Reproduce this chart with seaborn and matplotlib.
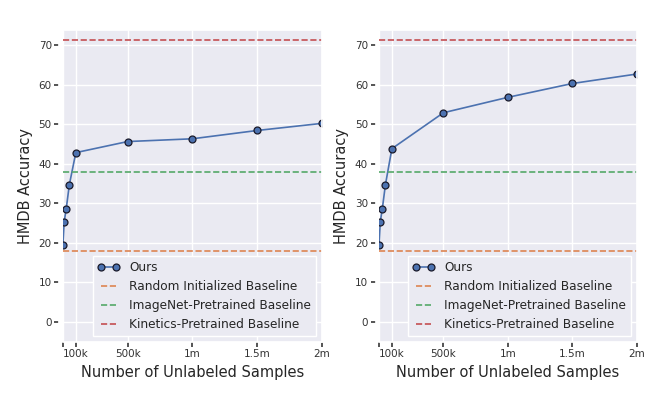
import numpy as np
import pandas as pd
import seaborn as sns
import matplotlib.pyplot as plt

# number of unlabeled samples
samples = [0, 10000, 25000, 50000, 100000, 500000, 1000000, 1500000, 2000000]
acc_left = [19.3, 25.3, 28.4, 34.7, 42.8, 45.6, 46.3, 48.4, 50.2]
acc_right = [19.3, 25.3, 28.4, 34.7, 43.8, 52.9, 56.8, 60.3, 62.7]

baseline_names = ['Random Initialized Baseline', 'ImageNet-Pretrained Baseline',
                  'Kinetics-Pretrained Baseline']
baseline_vals = [17.8, 37.8, 71.4]

xtick_vals = [0, 100000, 500000, 1000000, 1500000, 2000000]
xtick_labels = ['', '100k', '500k', '1m', '1.5m', '2m']
ytick_vals = [0, 10, 20, 30, 40, 50, 60, 70]

sns.set_theme(style='darkgrid')
plt.rcParams['font.family'] = ['DejaVu Sans']

pal = sns.color_palette('deep')

fig = plt.figure(figsize=(6.62, 3.97), dpi=100)
ax1 = fig.add_axes([0.095, 0.139, 0.391, 0.785])
ax2 = fig.add_axes([0.5725, 0.139, 0.3895, 0.785])

for ax, acc in [(ax1, acc_left), (ax2, acc_right)]:
    # small gap between y ticks and the plot area (set first, it resets the ticks)
    ax.spines['left'].set_position(('outward', 2.5))

    df = pd.DataFrame({'samples': samples, 'acc': acc})
    sns.lineplot(x='samples', y='acc', data=df, ax=ax, color=pal[0], lw=1.2,
                 marker='o', markersize=5, markeredgecolor='#1a1a2a',
                 markeredgewidth=0.9, label='Ours')
    for name, val, c in zip(baseline_names, baseline_vals, [pal[1], pal[2], pal[3]]):
        ax.axhline(val, ls='--', color=c, lw=1.2, label=name)

    ax.set_xlim(0, 2000000)
    ax.set_ylim(-5.1, 73.8)
    ax.set_xticks(xtick_vals)
    ax.set_xticklabels(xtick_labels, fontsize=7.5)
    ax.set_yticks(ytick_vals)
    ax.set_yticklabels([str(v) for v in ytick_vals], fontsize=7.5)
    ax.tick_params(bottom=True, left=True, length=3.5, width=1.1,
                   color='0.15', labelcolor='0.2', direction='out', pad=2)
    ax.set_xlabel('Number of Unlabeled Samples', fontsize=10.5, color='.15')
    ax.set_ylabel('HMDB Accuracy', fontsize=10.5, color='.15')
    ax.legend(loc='lower right', fontsize=8.7, frameon=True, facecolor='#EAEAF2',
              edgecolor='white', fancybox=False, framealpha=1,
              numpoints=2, handlelength=1.8)

plt.savefig('out.png', dpi=100)
